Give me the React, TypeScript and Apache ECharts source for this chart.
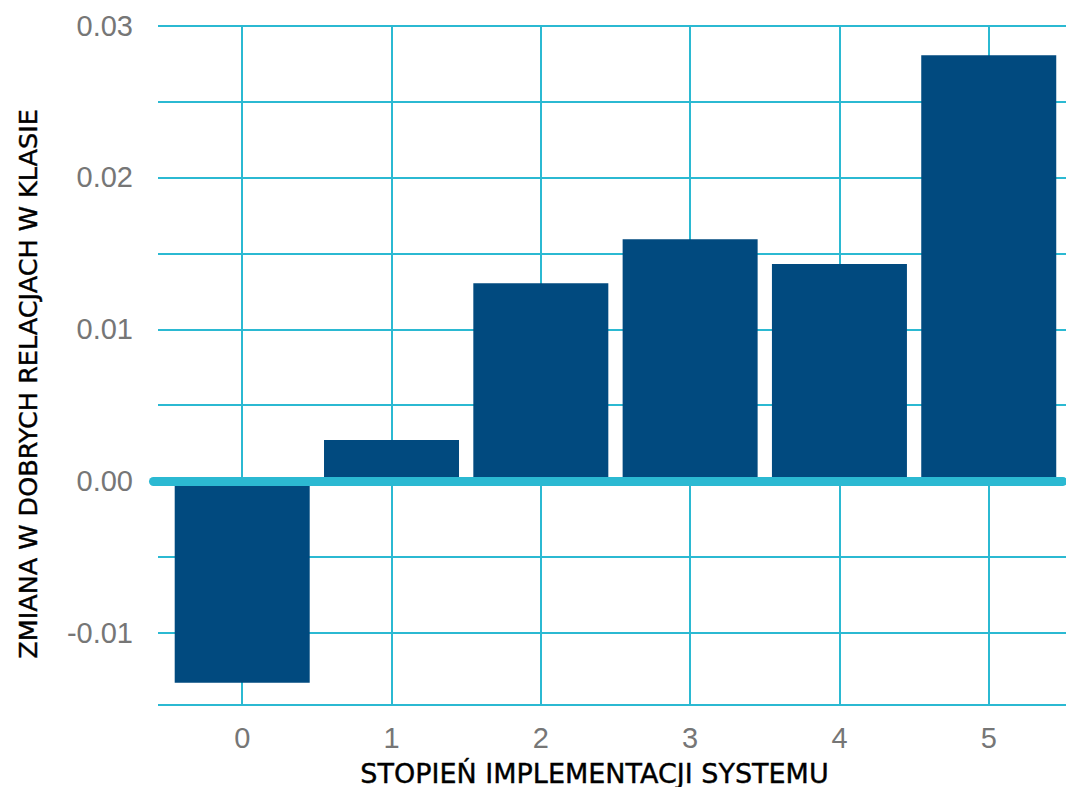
import React, { useEffect, useRef } from "react";
import * as echarts from "echarts";

const categories = [0, 1, 2, 3, 4, 5];
const values = [-0.01329, 0.0027, 0.01304, 0.01594, 0.0143, 0.02806];
const yMin = -0.01475;
const yMax = 0.03;
const xMin = -0.5941;
const xMax = 5.4973;
const yTitle = "ZMIANA W DOBRYCH RELACJACH W KLASIE";
const xTitle = "STOPIEŃ IMPLEMENTACJI SYSTEMU";

const GRID_COLOR = "#2BB9D2";
const BAR_COLOR = "#014A7F";
const LABEL_COLOR = "#767676";

export default function App() {
  const ref = useRef<HTMLDivElement>(null);
  useEffect(() => {
    if (!ref.current) return;
    const chart = echarts.init(ref.current, undefined, { renderer: "svg" });
    const top = 25.7;
    const height = 679.3;
    chart.setOption({
      animation: false,
      backgroundColor: "#ffffff",
      grid: [
        { left: 158, right: 0, top, height },
        { left: 153.5, right: 0, top, height },
      ],
      xAxis: [
        { gridIndex: 0, type: "value", show: false, min: 0, max: 1 },
        {
          gridIndex: 1,
          type: "value",
          min: xMin,
          max: xMax,
          minInterval: 1,
          maxInterval: 1,
          axisLine: { show: false },
          axisTick: { show: false },
          splitLine: { show: false },
          axisLabel: {
            color: LABEL_COLOR,
            fontSize: 29,
            fontFamily: "Liberation Sans",
            margin: 18,
            showMinLabel: true,
            showMaxLabel: true,
            formatter: (v: number) =>
              Math.abs(v - Math.round(v)) < 1e-6 ? String(Math.round(v)) : "",
          },
        },
      ],
      yAxis: [
        {
          gridIndex: 0,
          type: "value",
          min: yMin,
          max: yMax,
          minInterval: 0.005,
          maxInterval: 0.005,
          axisLine: { show: false },
          axisTick: { show: false },
          splitLine: { show: true, lineStyle: { color: GRID_COLOR, width: 2 } },
          axisLabel: {
            color: LABEL_COLOR,
            fontSize: 29,
            fontFamily: "Liberation Sans",
            margin: 25,
            formatter: (v: number) => {
              const r = Math.round(v * 100);
              return Math.abs(v * 100 - r) < 1e-6 ? (r / 100).toFixed(2) : "";
            },
          },
        },
        { gridIndex: 1, type: "value", min: yMin, max: yMax, show: false },
      ],
      series: [
        {
          type: "line",
          xAxisIndex: 1,
          yAxisIndex: 1,
          data: [],
          z: 1,
          markLine: {
            silent: true,
            symbol: "none",
            z: 1,
            label: { show: false },
            lineStyle: { color: GRID_COLOR, width: 2, type: "solid" },
            data: categories.map((c) => ({ xAxis: c })),
          },
        },
        {
          type: "bar",
          xAxisIndex: 1,
          yAxisIndex: 1,
          barWidth: 135,
          clip: false,
          z: 2,
          itemStyle: { color: BAR_COLOR },
          data: categories.map((c, i) => [c, values[i]]),
          markLine: {
            silent: true,
            symbol: "none",
            z: 5,
            label: { show: false },
            lineStyle: { color: GRID_COLOR, width: 9, type: "solid", cap: "round" },
            data: [[{ coord: [xMin, 0] }, { coord: [xMax, 0] }]],
          },
        },
      ],
      graphic: [
        {
          type: "text",
          x: 28,
          y: 384,
          rotation: Math.PI / 2,
          style: {
            text: yTitle,
            font: "25.5px 'DejaVu Sans'",
            fill: "#000000",
            stroke: "#000000",
            lineWidth: 0.4,
            align: "center",
            verticalAlign: "middle",
            textAlign: "center",
            textVerticalAlign: "middle",
          },
        },
        {
          type: "text",
          x: 594.5,
          y: 773,
          style: {
            text: xTitle,
            font: "27px 'DejaVu Sans'",
            fill: "#000000",
            stroke: "#000000",
            lineWidth: 0.4,
            align: "center",
            verticalAlign: "middle",
            textAlign: "center",
            textVerticalAlign: "middle",
          },
        },
      ],
    });
    return () => chart.dispose();
  }, []);
  return (
    <div
      ref={ref}
      style={{ position: "absolute", left: 0, top: 0, width: 1066, height: 787 }}
    />
  );
}
